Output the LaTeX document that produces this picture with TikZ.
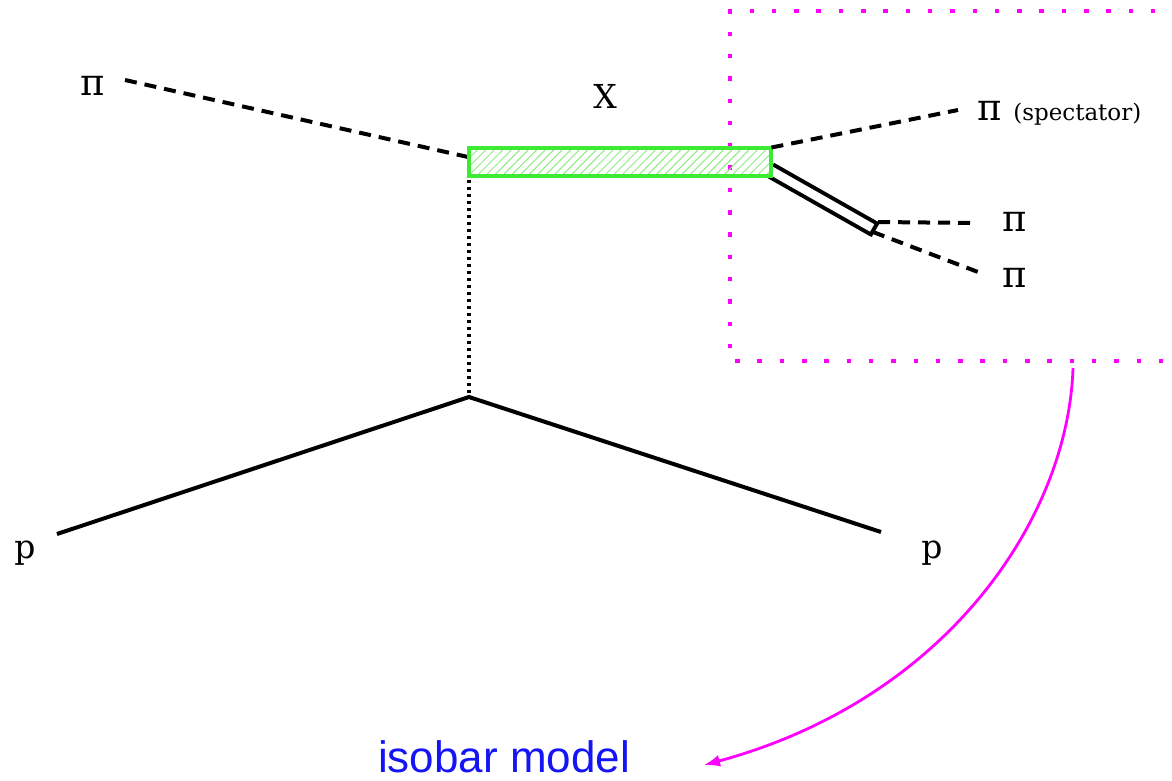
\documentclass[tikz,border=0pt]{standalone}
\usepackage{fontspec}
\setmainfont{DejaVu Serif}
\newfontfamily\labsans{Liberation Sans}
\usetikzlibrary{arrows.meta,patterns.meta}
\definecolor{boxgreen}{RGB}{60,235,50}
\definecolor{hatchgreen}{RGB}{140,235,130}
\definecolor{mag}{RGB}{255,0,255}
\definecolor{isoblue}{RGB}{20,20,245}
\tikzset{
  lab/.style={inner sep=0pt, font=\fontsize{33}{38}\selectfont},
  pilab/.style={inner sep=0pt, font=\fontsize{37}{42}\selectfont},
  pidash/.style={line width=4pt, dash pattern=on 12pt off 8pt},
  exch/.style={line width=4pt, dash pattern=on 3pt off 4pt},
  proton/.style={line width=4pt},
  isobar/.style={line width=4pt, double=white, double distance=8.5pt},
  resbox/.style={draw=boxgreen, line width=4.5pt, pattern={Lines[angle=45,distance=6pt,line width=1pt]}, pattern color=hatchgreen},
  magbox/.style={draw=mag, line width=4.5pt, dash pattern=on 4.5pt off 17.8pt},
  magarrow/.style={draw=mag, line width=2.8pt, -{Latex[length=16pt,width=12pt]}},
}
\begin{document}
\begin{tikzpicture}[x=1pt,y=-1pt]
\useasboundingbox (0,0) rectangle (1172,780);
\clip (0,0) rectangle (1172,780);
% magenta dotted region
\coordinate (mtl) at (730,11);
\coordinate (mbl) at (730,361);
\coordinate (mtr) at (1200,11);
\coordinate (mbr) at (1200,361);
\draw[magbox] (mtr) -- (mtl) -- (mbl) -- (mbr);
% vertices
\coordinate (vbot) at (469,397);
\coordinate (piin) at (125,80);
\coordinate (pin) at (57,534);
\coordinate (pout) at (881,532);
\coordinate (boxin) at (468,157);
\coordinate (isoA) at (770,170);
\coordinate (isoB) at (874,229);
\coordinate (capA) at (878,222);
\coordinate (capB) at (870,236);
\coordinate (pi2start) at (873,232);
\coordinate (exstart) at (469,180);
\coordinate (specend) at (958,110);
\coordinate (pi1end) at (976,223);
\coordinate (pi2end) at (978,272);
% labels
\node[pilab] (lpiin) at (93,86) {π};
\node[lab] (lX) at (605,96) {X};
\node[pilab, anchor=west] (lspec) at (977,113) {π \fontsize{23}{27}\selectfont(spectator)};
\node[pilab] (lpi1) at (1015,222) {π};
\node[pilab] (lpi2) at (1015,278) {π};
\node[lab] (lpin) at (25,553) {p};
\node[lab] (lpout) at (932,553) {p};
\node[font=\labsans\fontsize{44}{50}\selectfont, text=isoblue, inner sep=0pt] (liso) at (504,757) {isobar model};
% lines
\draw[pidash] (piin) -- (boxin);
\draw[exch] (exstart) -- (vbot);
\draw[proton] (pin) -- (vbot) -- (pout);
\draw[isobar] (isoA) -- (isoB);
\draw[line width=4pt] (capA) -- (capB);
\node[resbox, minimum width=302pt, minimum height=28pt, inner sep=0pt] (X) at (620,162) {};
\draw[pidash] (X.north east) -- (specend);
\draw[pidash] (capA) -- (pi1end);
\draw[pidash] (pi2start) -- (pi2end);
% arrow
\coordinate (astart) at (1073,368);
\coordinate (aend) at (704,765);
\draw[magarrow] (astart) .. controls (1068,520) and (945,700) .. (aend);
\end{tikzpicture}
\end{document}
